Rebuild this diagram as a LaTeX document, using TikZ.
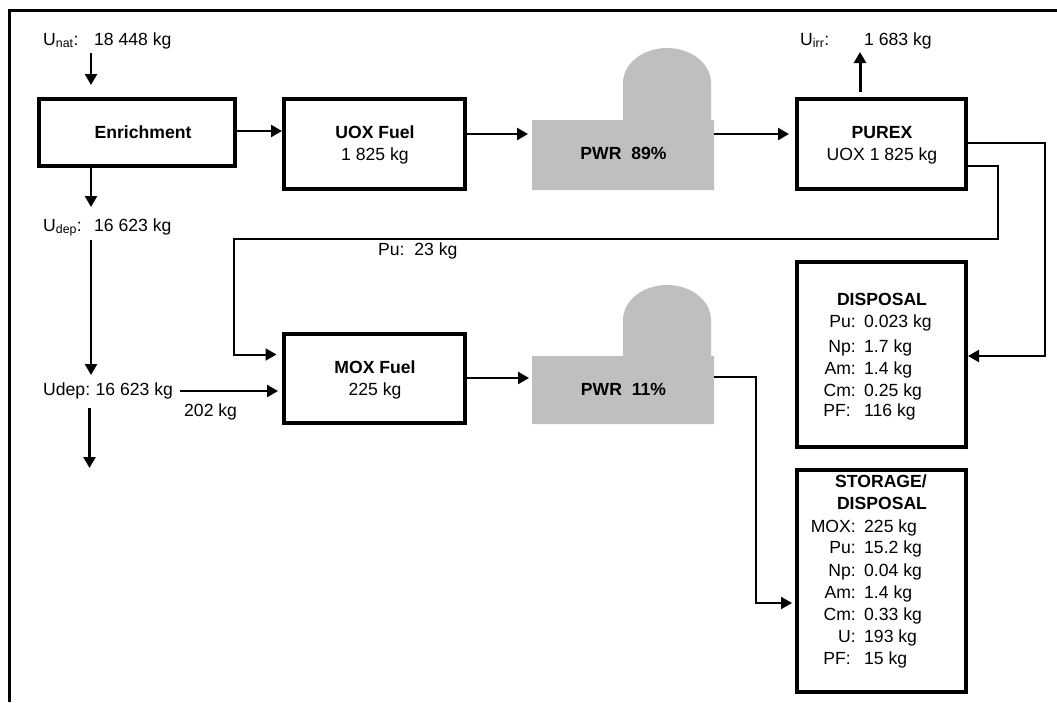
\documentclass[tikz,border=0pt]{standalone}
\usepackage{fontspec}
\setmainfont{Liberation Sans}
\usetikzlibrary{arrows.meta}
\newcommand{\subt}[1]{\textsubscript{#1}}
\tikzset{
  x=1pt,y=-1pt,
  every node/.style={font=\fontsize{17.6}{20}\selectfont,inner sep=0pt,text=black},
  lab/.style={anchor=base west},
  labr/.style={anchor=base east},
  boxb/.style={draw=black,line width=4pt,fill=none,inner sep=0pt,anchor=north west},
  flow/.style={draw=black,line width=2.4pt,-{Triangle[length=11pt,width=12pt]}},
  pipe/.style={draw=black,line width=2pt,-{Triangle[length=11pt,width=12pt]}},
  reactor/.style={fill=black!25,draw=none},
  frameline/.style={draw=black,line width=3pt},
  ttl/.style={anchor=base,font=\fontsize{17.6}{20}\selectfont\bfseries},
}
\begin{document}
\begin{tikzpicture}
\useasboundingbox (0,0) rectangle (1057,702);
\fill[white] (0,0) rectangle (1057,702);
\draw[frameline] (9,702) -- (9,10.5) -- (1057,10.5);
% reactors
\fill[reactor] (532,120) -- (623,120) -- (623,83) arc[start angle=180,end angle=0,x radius=44,y radius=-35] -- (711,120) -- (714,120) -- (714,190) -- (532,190) -- cycle;
\fill[reactor] (532,356) -- (623,356) -- (623,320) arc[start angle=180,end angle=0,x radius=44,y radius=-35] -- (711,356) -- (714,356) -- (714,424) -- (532,424) -- cycle;
% boxes
\node[boxb,minimum width=196pt,minimum height=67pt] (enr) at (37,97) {};
\node[boxb,minimum width=181pt,minimum height=90pt] (uox) at (282,97) {};
\node[boxb,minimum width=169pt,minimum height=90pt] (pur) at (795,97) {};
\node[boxb,minimum width=181pt,minimum height=89pt] (mox) at (282,332) {};
\node[boxb,minimum width=169pt,minimum height=185pt] (dis) at (795,260) {};
\node[boxb,minimum width=169pt,minimum height=222pt] (sto) at (795,468) {};
\coordinate (pwraL) at (528,134);
\coordinate (pwraR) at (714,134);
\coordinate (pwrbL) at (529,378);
\coordinate (pwrbR) at (714,377);
% free ends
\coordinate (unatA) at (91,53);\coordinate (unatB) at (91,85);
\coordinate (enrE) at (91,207);
\coordinate (depA) at (91,240);\coordinate (depB) at (91,375);
\coordinate (depC) at (89.5,408);\coordinate (depD) at (89.5,468);
\coordinate (depE) at (180,391);\coordinate (depF) at (278,391);
\coordinate (irrB) at (860,52);
% connectors
\draw[flow] (unatA) -- (unatB);
\draw[flow] (91,168) -- (enrE);
\draw[flow] (depA) -- (depB);
\draw[flow] (depC) -- (depD);
\draw[flow] (depE) -- (depF);
\draw[flow] (enr.east |- 0,131) -- (uox.west |- 0,131);
\draw[flow] (uox.east |- pwraL) -- (pwraL);
\draw[flow] (pwraR) -- (789,134);
\draw[flow] (mox.east |- pwrbL) -- (pwrbL);
\draw[flow,line width=3pt] (860,92) -- (irrB);
\draw[pipe] (pur.east |- 0,143) -| (1045,356) -- (dis.east |- 0,356);
\draw[pipe] (pur.east |- 0,166) -| (998,239) -| (234,354.5) -- (276.5,354.5);
\draw[pipe] (pwrbR) -| (756,603) -- (792,603);
% labels
\node[lab] (t1) at (43,45) {U\subt{nat}:};
\node[lab] (t2) at (94,45) {18 448 kg};
\node[lab] (t3) at (43,231) {U\subt{dep}:};
\node[lab] (t4) at (94,231) {16 623 kg};
\node[lab] (t5) at (43,395) {Udep:\kern-1pt{} 16 623 kg};
\node[lab] (t6) at (184,416) {202 kg};
\node[lab] (t7) at (378,255) {Pu:\ \ 23 kg};
\node[lab] (t8) at (800,45) {U\subt{irr}:};
\node[lab] (t9) at (864,45) {1 683 kg};
\node[ttl] (e1) at (143,138) {Enrichment};
\node[ttl] (u1) at (375,138) {UOX Fuel};
\node[anchor=base] (u2) at (375,160) {1 825 kg};
\node[ttl] (p1) at (882,138) {PUREX};
\node[anchor=base] (p2) at (882,160.5) {UOX 1 825 kg};
\node[ttl] (r1) at (623.5,159) {PWR\ \ 89\%};
\node[ttl] (r2) at (623.5,395) {PWR\ \ 11\%};
\node[ttl] (m1) at (375,373) {MOX Fuel};
\node[anchor=base] (m2) at (375,395) {225 kg};
\node[ttl] (d0) at (882,305) {DISPOSAL};
\foreach \n/\a/\b/\y/\xa in {da/Pu:/0.023 kg/327/856,db/Np:/1.7 kg/352/856,dc/Am:/1.4 kg/374/856,dd/Cm:/0.25 kg/396/856,de/PF:/116 kg/416/851}{
  \node[labr] (\n l) at (\xa,\y) {\a};
  \node[lab] (\n r) at (864,\y) {\b};
}
\node[ttl] (s0) at (881,487) {STORAGE/};
\node[ttl] (s00) at (882,509) {DISPOSAL};
\foreach \n/\a/\b/\y/\xa in {sa/MOX:/225 kg/532/856,sb/Pu:/15.2 kg/553/856,sc/Np:/0.04 kg/576/856,sd/Am:/1.4 kg/598/856,se/Cm:/0.33 kg/620/856,sf/U:/193 kg/642/856,sg/PF:/15 kg/664/851}{
  \node[labr] (\n l) at (\xa,\y) {\a};
  \node[lab] (\n r) at (864,\y) {\b};
}
\end{tikzpicture}
\end{document}
